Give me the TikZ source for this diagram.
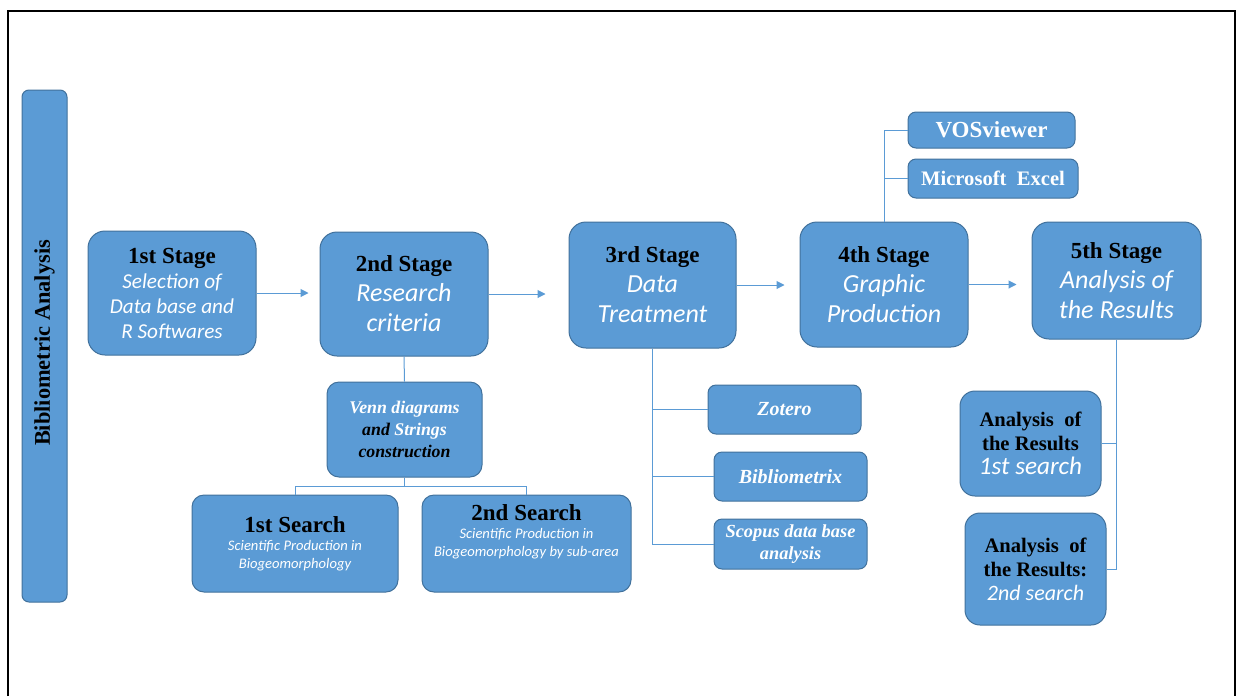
\documentclass[tikz,border=0pt]{standalone}
\usepackage{fontspec}
\setmainfont{Liberation Serif}
\newfontfamily\calibri{Carlito}
\usetikzlibrary{positioning,arrows.meta}

\definecolor{boxfill}{HTML}{5B9BD5}
\definecolor{boxedge}{HTML}{41719C}
\definecolor{linkc}{HTML}{5B9BD5}

\newcommand{\hd}[1]{{\fontsize{11.5}{14}\selectfont\bfseries #1}}
\newcommand{\sub}[1]{{\calibri\mdseries\itshape\color{white}#1}}

\tikzset{
  box/.style={draw=boxedge, fill=boxfill, line width=0.5pt, align=center, inner sep=1pt},
  stage/.style={box, rounded corners=8.5pt, minimum width=84pt, minimum height=62pt,
    font=\fontsize{13}{15}\selectfont},
  tool/.style={box, rounded corners=4pt, minimum width=76.5pt, minimum height=24.5pt,
    text=white, font=\fontsize{10}{11}\selectfont\bfseries\itshape},
  soft/.style={box, rounded corners=4pt, minimum height=18pt, text=white,
    font=\fontsize{11}{13}\selectfont\bfseries},
  search/.style={box, rounded corners=6pt, minimum width=103pt, minimum height=48.5pt,
    font=\fontsize{7.3}{8.9}\selectfont},
  result/.style={box, rounded corners=7.5pt, minimum width=70.5pt,
    font=\fontsize{10.3}{12}\selectfont\bfseries},
  flow/.style={draw=linkc, line width=0.5pt, -{Triangle[length=4pt,width=4pt]}},
  link/.style={draw=linkc, line width=0.5pt},
}

\begin{document}
\begin{tikzpicture}[x=0.5pt, y=-0.5pt]
\useasboundingbox (0,0) rectangle (1240,696);
% frame
\draw[line width=1pt] (8,696) -- (8,11) -- (1235,11) -- (1235,696);
% side bar
\node[box, rounded corners=3.5pt, minimum width=22.5pt, minimum height=256pt] (bar) at (44.5,346) {};
\node[rotate=90, font=\fontsize{11.2}{13}\selectfont\bfseries] (bartxt) at (44.5,343) {Bibliometric Analysis};
% stages
\node[stage, font=\fontsize{10.6}{12.5}\selectfont] (s1) at (172,293) {\hd{1st Stage}\\
  \sub{Selection of}\\ \sub{Data base and}\\ \sub{R Softwares}};
\node[stage] (s2) at (404,294) {\hd{2nd Stage}\\ \sub{Research}\\ \sub{criteria}};
\node[stage, minimum width=83.5pt, minimum height=63pt] (s3) at (652.5,285) {\hd{3rd Stage}\\ \sub{Data}\\ \sub{Treatment}};
\node[stage, minimum height=62.5pt] (s4) at (884,284.5) {\hd{4th Stage}\\ \sub{Graphic}\\ \sub{Production}};
\node[stage, minimum width=84.5pt, minimum height=58.5pt] (s5) at (1116.5,280.5) {\hd{5th Stage}\\ \sub{Analysis of}\\ \sub{the Results}};
\draw[flow, shorten >=5.5pt] (s1.east) -- (s1.east -| s2.west);
\draw[flow, shorten >=11.5pt] (s2.east) -- (s2.east -| s3.west);
\draw[flow, shorten >=7.5pt] (s3.east) -- (s3.east -| s4.west);
\draw[flow, shorten >=7.5pt] (s4.east) -- (s4.east -| s5.west);
% graphic software
\node[soft, minimum width=83.5pt, font=\fontsize{11.5}{13}\selectfont\bfseries] (vos) at (991.5,130) {VOSviewer};
\node[soft, minimum width=85pt, minimum height=19.5pt, font=\fontsize{10.3}{12}\selectfont\bfseries] (excel) at (993,178.5) {Microsoft\ \ Excel};
\draw[link] (s4.north) |- (vos.west);
\draw[link] (s4.north) |- (excel.west);
% research criteria
\node[box, rounded corners=6pt, minimum width=77.5pt, minimum height=47.5pt,
  font=\fontsize{8.9}{11}\selectfont\bfseries\itshape] (venn) at (404.5,429.5)
  {\textcolor{white}{Venn diagrams}\\ and \textcolor{white}{Strings}\\ construction};
\node[search] (q1) at (295,543.5) {\hd{1st Search}\\ \sub{Scientific Production in}\\ \sub{Biogeomorphology}};
\node[search, minimum width=104.5pt] (q2) at (526.5,543.5) {\hd{2nd Search}\\ \sub{Scientific Production in}\\ \sub{Biogeomorphology by sub-area}\\[4pt]};
\draw[link] (s2.south) -- (venn.north);
\draw[link] (venn.south) -- ++(0,9) -| (q1.north);
\draw[link] (venn.south) -- ++(0,9) -| (q2.north);
% data treatment
\node[tool] (zot) at (784.5,409.5) {Zotero};
\node[tool] (bib) at (790.5,476.5) {Bibliometrix};
\node[tool, minimum height=25pt, font=\fontsize{9.2}{10.8}\selectfont\bfseries\itshape] (sco) at (790.5,544) {Scopus data base\\ analysis};
\draw[link] (s3.south) |- (zot.west);
\draw[link] (s3.south) |- (bib.west);
\draw[link] (s3.south) |- (sco.west);
% analysis of the results
\node[result, minimum height=52.5pt] (a1) at (1030.5,443.5) {Analysis\ \ of\\ the Results\\
  {\fontsize{12.6}{14}\selectfont\sub{1st search}}};
\node[result, minimum height=56pt] (a2) at (1035.5,569) {Analysis\ \ of\\ the Results:\\
  {\fontsize{11}{14}\selectfont\sub{2nd search}}};
\draw[link] (s5.south) |- (a1.east);
\draw[link] (s5.south) |- (a2.east);
\end{tikzpicture}
\end{document}
